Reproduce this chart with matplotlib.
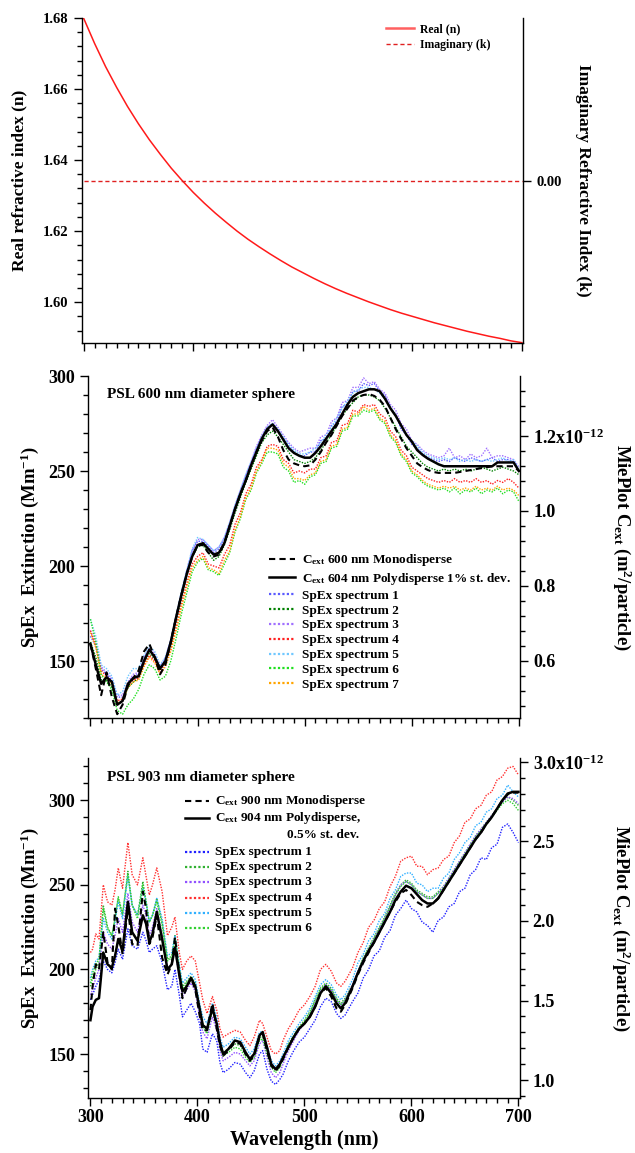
import matplotlib
matplotlib.use("Agg")
import matplotlib.pyplot as plt
from matplotlib.ticker import MultipleLocator, FixedLocator, FuncFormatter, NullFormatter
from matplotlib.lines import Line2D
import numpy as np

plt.rcParams.update({
    "font.family": "Liberation Serif",
    "font.weight": "bold",
    "axes.labelweight": "bold",
    "mathtext.fontset": "custom",
    "mathtext.rm": "Liberation Serif:bold",
    "mathtext.it": "Liberation Serif:bold",
    "mathtext.bf": "Liberation Serif:bold",
    "axes.linewidth": 1.0,
    "axes.unicode_minus": False,
})

# ---------------- data: top panel ----------------
wl_n = list(range(300, 701, 10))
n_real = [1.6799, 1.6728, 1.6663, 1.6605, 1.6551, 1.6502, 1.6457, 1.6416, 1.6377, 1.6342,
          1.6309, 1.6279, 1.6251, 1.6225, 1.6200, 1.6177, 1.6156, 1.6136, 1.6117, 1.6099,
          1.6083, 1.6067, 1.6052, 1.6038, 1.6025, 1.6013, 1.6001, 1.5990, 1.5979, 1.5969,
          1.5960, 1.5951, 1.5942, 1.5934, 1.5926, 1.5918, 1.5911, 1.5904, 1.5898, 1.5891,
          1.5886]
wl_k = [300, 700]
k_imag = [0.0, 0.0]

# ---------------- data: middle panel (PSL 600 nm) ----------------
wl_mid = list(range(300, 701, 5))
mid_mono = [159, 146, 132, 144, 131, 122, 127, 137, 141, 145, 155, 159, 152, 143, 148, 160, 173, 185, 196, 205, 211,
            211, 207, 205, 206, 212, 221, 230, 238, 245, 253, 260, 266, 271, 273, 268, 261, 256, 254, 253, 252.5,
            253, 256, 260, 265, 269, 274, 279, 283, 287, 289, 290, 290.5, 289.5, 287.5, 284, 278, 272, 267, 262, 258,
            254, 252, 250.5, 249.5, 249, 249, 249, 249, 249.5, 250, 250.5, 251, 251.5, 252, 252.5, 252.5, 252.5, 252.5, 252.5, 250]
mid_poly = [159, 148, 138, 141.5, 139, 127, 129, 138, 141, 142, 150, 156, 152, 146, 150, 160, 173, 185, 196, 205, 211,
            212, 209, 206, 207, 212, 221, 230, 238, 245, 253, 260, 267, 272, 274.5, 271, 266.5, 262, 259.5, 258, 257,
            257, 259.5, 263, 267, 271, 275, 280, 285, 289, 291, 292, 293, 293, 292, 288, 283, 279, 274, 269, 265.5,
            261, 258.5, 256.5, 255, 253.5, 252.5, 252.5, 252.5, 252.5, 252.5, 252.5, 252.5, 252.5, 252.5, 252.5, 254.5, 254.5, 254.5, 254.5, 250]
mid_s1 = [163, 158, 146, 143, 140, 131, 131, 138, 142, 143, 151, 156, 153, 146, 151, 161, 173, 186, 197, 208, 213,
          213, 210, 207, 209, 214, 222, 231, 239, 247, 254, 262, 268, 273, 275, 272, 267, 264, 260, 258, 258,
          260, 260, 266, 267, 274, 276, 284, 285, 292, 292, 296, 295, 296, 292, 290, 283, 280, 272, 269, 264,
          262, 259, 257, 256, 255, 256, 255, 257, 256, 255, 257, 256, 255, 256, 257, 255, 256, 256, 255, 250]
mid_s2 = [160, 152, 140, 140, 136, 127, 129, 136, 139, 141, 149, 154, 151, 145, 150, 158, 171, 183, 195, 205, 210,
          211, 207, 203, 205, 211, 219, 228, 236, 244, 251, 258, 265, 269, 271, 268, 264, 260, 256, 255, 254,
          255, 257, 261, 265, 269, 274, 279, 283, 286, 289, 290, 290, 289, 287, 283, 278, 273, 268, 263, 260,
          257, 254, 252, 251, 250, 251, 250, 251, 250, 251, 250, 251, 252, 251, 250, 251, 252, 251, 250, 248]
mid_s3 = [166, 160, 147, 144, 141, 132, 132, 139, 143, 144, 152, 157, 154, 147, 152, 161, 174, 186, 198, 208, 214,
          214, 211, 208, 210, 215, 223, 232, 240, 248, 255, 263, 269, 274, 277, 273, 269, 265, 262, 260, 261,
          262, 262, 268, 269, 276, 278, 286, 287, 294, 294, 299, 296, 297, 293, 291, 285, 282, 275, 272, 266,
          264, 261, 259, 258, 257, 258, 262, 257, 258, 256, 259, 257, 258, 262, 257, 258, 258, 257, 256, 252]
mid_s4 = [166, 158, 145, 142, 139, 129, 130, 137, 140, 141, 148, 153, 150, 144, 149, 156, 168, 180, 191, 201, 205,
          207, 201, 200, 199, 206, 211, 222, 228, 238, 243, 252, 256, 263, 264, 263, 256, 254, 249, 250, 249,
          251, 251, 257, 258, 265, 266, 274, 275, 282, 281, 285, 284, 285, 280, 278, 271, 268, 261, 258, 252,
          250, 248, 246, 245, 244, 245, 244, 246, 244, 245, 244, 246, 244, 245, 243, 245, 244, 246, 244, 241]
mid_s5 = [172, 163, 148, 146, 142, 132, 134, 142, 146, 146, 153, 158, 155, 148, 152, 161, 174, 187, 198, 209, 215,
          214, 211, 208, 210, 215, 223, 232, 240, 248, 255, 262, 268, 273, 275, 272, 268, 264, 261, 259, 259,
          260, 262, 265, 269, 273, 278, 283, 287, 291, 293, 294, 294, 293, 291, 288, 284, 279, 274, 269, 266,
          263, 260, 258, 257, 256, 257, 256, 257, 255, 256, 255, 256, 255, 256, 255, 256, 257, 255, 256, 251]
mid_s6 = [172, 160, 143, 139, 135, 124, 122, 127, 130, 135, 143, 148, 146, 140, 142, 150, 162, 175, 186, 197, 202,
          204, 198, 197, 195, 201, 207, 218, 225, 235, 240, 249, 254, 260, 260, 259, 252, 250, 244, 245, 243,
          247, 248, 254, 255, 262, 263, 271, 272, 279, 279, 282, 281, 282, 277, 275, 268, 265, 258, 255, 249,
          247, 244, 242, 241, 240, 241, 239, 241, 238, 240, 239, 241, 238, 240, 239, 241, 238, 240, 239, 234]
mid_s7 = [165, 157, 143, 141, 138, 128, 129, 136, 139, 140, 147, 152, 149, 143, 147, 155, 166, 178, 189, 199, 203,
          205, 199, 198, 196, 203, 208, 219, 226, 236, 241, 250, 255, 262, 262, 261, 254, 252, 246, 246, 245,
          248, 249, 255, 256, 263, 264, 272, 273, 280, 280, 284, 282, 283, 278, 276, 269, 266, 259, 256, 250,
          248, 245, 243, 242, 241, 242, 241, 242, 240, 241, 240, 242, 240, 241, 240, 242, 240, 241, 240, 237]
mid_spectra = [mid_s1, mid_s2, mid_s3, mid_s4, mid_s5, mid_s6, mid_s7]
mid_colors = ["#5a5aff", "#008000", "#a070ff", "#ff2020", "#70c8ff", "#20e020", "#ffa500"]

# ---------------- data: bottom panel (PSL 903 nm) ----------------
wl_bot = [300, 302, 305, 308, 312, 316, 320, 323, 326, 330,
          335, 339, 344, 349, 352, 355, 358, 362, 367, 372,
          376, 379, 383, 386, 390, 394, 398, 402, 405, 409,
          414, 418, 421, 424, 429, 435, 440, 445, 449, 453,
          458, 461, 465, 469, 473, 477, 480, 485, 490, 495,
          500, 505, 510, 515, 520, 525, 530, 534, 538, 545,
          550, 555, 560, 565, 570, 575, 580, 585, 590, 595,
          600, 605, 610, 615, 620, 625, 630, 635, 640, 645,
          650, 655, 660, 665, 670, 675, 680, 685, 690, 695,
          700]
bot_poly = [170, 178, 182, 183, 210, 203, 201, 208, 218, 211,
            240, 222, 217, 232, 227, 216, 221, 234, 218, 200,
            203, 213, 197, 187, 190, 195, 190, 177, 167, 165,
            177, 168, 157, 150, 153, 158, 157, 151, 147, 150,
            161, 163, 154, 144, 141, 144, 148, 154, 160, 165,
            168, 172, 178, 186, 190, 186, 180, 177, 180, 190,
            198, 205, 211, 216, 222, 228, 234, 241, 246, 249.5,
            248, 244.5, 241, 239, 239, 242, 247, 252, 257, 262,
            267, 272, 277, 281, 286, 290, 295, 300, 304, 305,
            305]
bot_mono = [176, 190, 203, 200, 222, 204, 200, 236, 226, 209,
            236, 215, 214, 246, 236, 215, 219, 232, 207, 197,
            203, 219, 198, 183, 189, 195, 188, 173, 164, 164,
            180, 165, 155, 149, 152, 157, 156, 150, 146, 149,
            160, 162, 152, 143, 140, 143, 147, 154, 160, 165,
            168, 172, 178, 186, 189, 184, 177, 175, 179, 189,
            197, 204, 210, 216, 222, 228, 234, 240, 245, 247,
            244, 240, 238, 237, 239, 242, 247, 252, 257, 262,
            267, 272, 277, 281, 286, 290, 295, 300, 303.5, 304.5,
            304.5]
bot_s1 = [182, 185, 190, 194, 205, 200, 198, 204, 212, 206,
          224, 214, 212, 222, 217, 210, 212, 214, 204, 188,
          190, 200, 185, 172, 176, 180, 175, 168, 153, 151,
          162, 158, 145, 139, 141, 145, 144, 139, 136, 140,
          150, 152, 141, 134, 132, 135, 138, 146, 152, 157,
          160, 165, 170, 178, 183, 181, 174, 171, 173, 181,
          186, 195, 200, 208, 211, 219, 223, 232, 236, 241,
          236, 234, 228, 226, 222, 229, 231, 237, 239, 246,
          248, 256, 259, 266, 265, 272, 274, 284, 286, 281,
          275]
bot_s2 = [190, 195, 200, 204, 238, 225, 220, 230, 242, 232,
          258, 238, 232, 252, 240, 228, 232, 242, 228, 206,
          208, 220, 202, 190, 193, 196, 192, 178, 168, 164,
          178, 169, 157, 151, 153, 156, 155, 150, 147, 150,
          160, 160, 152, 144, 141, 144, 148, 156, 161, 166,
          170, 175, 182, 189, 192, 189, 183, 180, 183, 191,
          199, 207, 213, 219, 225, 231, 238, 245, 250, 253,
          251, 247, 245, 243, 243, 246, 249, 254, 259, 264,
          269, 274, 279, 283, 287, 291, 295, 299, 302, 300,
          297]
bot_s3 = [185, 188, 195, 200, 222, 215, 212, 220, 230, 222,
          245, 228, 222, 238, 232, 220, 225, 236, 220, 200,
          203, 212, 195, 184, 188, 192, 187, 172, 163, 159,
          172, 164, 152, 146, 148, 151, 150, 146, 143, 146,
          156, 158, 148, 139, 136, 139, 144, 152, 158, 164,
          168, 173, 180, 187, 191, 188, 182, 179, 182, 191,
          199, 206, 212, 218, 224, 230, 237, 244, 250, 252,
          250, 246, 244, 242, 242, 245, 249, 254, 259, 264,
          269, 274, 279, 283, 287, 291, 295, 299, 302, 301,
          298]
bot_s4 = [210, 212, 221, 218, 250, 240, 238, 247, 260, 248,
          275, 256, 250, 266, 255, 244, 250, 260, 246, 220,
          225, 231, 210, 200, 205, 208, 205, 192, 182, 174,
          184, 176, 165, 160, 162, 164, 163, 158, 155, 160,
          170, 168, 160, 152, 150, 152, 158, 165, 170, 176,
          179, 184, 190, 200, 203, 199, 192, 190, 193, 201,
          210, 216, 225, 229, 236, 240, 249, 255, 264, 266,
          267, 261, 261, 256, 259, 260, 265, 267, 275, 279,
          287, 289, 295, 297, 303, 305, 312, 314, 319, 320,
          315]
bot_s5 = [195, 200, 205, 207, 230, 222, 218, 228, 240, 230,
          255, 238, 232, 248, 240, 228, 232, 242, 230, 208,
          210, 220, 203, 192, 195, 198, 194, 180, 172, 168,
          180, 172, 160, 154, 156, 160, 159, 154, 150, 153,
          163, 163, 155, 146, 143, 146, 150, 158, 163, 168,
          172, 177, 184, 191, 194, 191, 185, 182, 185, 194,
          204, 209, 217, 221, 229, 233, 242, 247, 255, 257,
          257, 251, 250, 246, 248, 248, 254, 257, 265, 269,
          275, 278, 285, 287, 293, 295, 301, 303, 309, 305,
          302]
bot_s6 = [192, 198, 203, 206, 236, 224, 220, 230, 243, 233,
          256, 238, 230, 250, 240, 228, 232, 240, 226, 205,
          207, 218, 200, 188, 192, 195, 190, 176, 166, 162,
          176, 167, 155, 149, 151, 154, 153, 148, 145, 148,
          158, 159, 150, 142, 139, 142, 147, 155, 160, 165,
          169, 174, 181, 188, 191, 188, 182, 179, 182, 190,
          198, 206, 212, 218, 224, 230, 237, 244, 249, 252,
          250, 246, 244, 242, 242, 245, 248, 253, 258, 263,
          268, 273, 278, 282, 286, 290, 294, 298, 300, 298,
          294]
bot_spectra = [bot_s1, bot_s2, bot_s3, bot_s4, bot_s5, bot_s6]
bot_colors = ["#2020ff", "#30b030", "#9050ff", "#ff3030", "#30b0ff", "#30d030"]

# ---------------- figure ----------------
W, H = 635, 1153
fig = plt.figure(figsize=(W / 100, H / 100), dpi=100)


def rect(l, t, r, b):
    return [l / W, 1 - b / H, (r - l) / W, (b - t) / H]


TL = 13  # tick label size lower panels
LAB = 13.5
dot = (0, (1, 1))
dash = (0, (3, 2))


def style_x(ax, labels):
    ax.set_xlim(298, 701)
    ax.xaxis.set_major_locator(MultipleLocator(100))
    ax.xaxis.set_minor_locator(MultipleLocator(10))
    ax.tick_params(axis="x", which="major", direction="out", length=6, width=1, labelsize=TL, pad=2)
    ax.tick_params(axis="x", which="minor", direction="out", length=3.5, width=1)
    if not labels:
        ax.xaxis.set_major_formatter(NullFormatter())
    for s in ("top", "right"):
        ax.spines[s].set_visible(False)


def key_rows(ax, x0, x1, xt, rows):
    """Draw legend rows (handle sample + label) in axes-fraction coordinates."""
    for y, style, label, xlab in rows:
        if style is not None:
            ax.add_line(Line2D([x0, x1], [y, y], transform=ax.transAxes, clip_on=False, **style))
        ax.text(xt if xlab is None else xlab, y, label, transform=ax.transAxes,
                fontsize=9.5, va="center", ha="left")


# ---------------- top panel ----------------
ax1 = fig.add_axes(rect(81.5, 18, 523, 343))
ax1.plot(wl_n, n_real, color="#ff1a1a", lw=1.1)
ax1.set_ylim(1.5885, 1.68)
ax1.yaxis.set_major_locator(MultipleLocator(0.02))
ax1.yaxis.set_minor_locator(MultipleLocator(0.004))
ax1.yaxis.set_major_formatter(FuncFormatter(lambda v, p: f"{v:.2f}"))
ax1.tick_params(axis="y", which="major", direction="out", length=6, width=1, labelsize=10.5)
ax1.tick_params(axis="y", which="minor", direction="out", length=3.5, width=1)
style_x(ax1, False)
ax1.set_ylabel("Real refractive index (n)", fontsize=12.5, va="center")
ax1.yaxis.set_label_coords(-0.14, 0.5)

ax1k = ax1.twinx()
ax1k.plot(wl_k, k_imag, color="#e02020", lw=1.0, ls=dash)
ax1k.set_ylim(-1.0, 1.0)
ax1k.yaxis.set_major_locator(FixedLocator([0.0]))
ax1k.yaxis.set_major_formatter(FuncFormatter(lambda v, p: "0.00"))
ax1k.tick_params(axis="y", which="major", direction="out", length=6, width=1, labelsize=10.5)
for s in ("top", "left", "bottom"):
    ax1k.spines[s].set_visible(False)
ax1k.text(1.136, 0.5, "Imaginary Refractive Index (k)", transform=ax1k.transAxes,
          fontsize=12.5, rotation=270, va="center", ha="center")
h_top = [Line2D([], [], color="#ff6060", lw=1.8), Line2D([], [], color="#e02020", lw=1.0, ls=dash)]
ax1k.legend(h_top, ["Real (n)", "Imaginary (k)"], loc="upper left", bbox_to_anchor=(0.69, 0.985),
            frameon=False, fontsize=8.5, handlelength=2.4, handletextpad=0.5, labelspacing=0.35,
            borderpad=0, borderaxespad=0)

# ---------------- middle panel ----------------
ax2 = fig.add_axes(rect(88.3, 376, 520, 718))
for ys, c in zip(mid_spectra, mid_colors):
    ax2.plot(wl_mid, ys, color=c, lw=1.0, ls=dot)
ax2.plot(wl_mid, mid_mono, color="k", lw=1.5, ls=dash)
ax2.plot(wl_mid, mid_poly, color="k", lw=1.8)
ax2.set_ylim(120, 300)
ax2.yaxis.set_major_locator(MultipleLocator(50))
ax2.yaxis.set_minor_locator(MultipleLocator(10))
ax2.tick_params(axis="y", which="major", direction="out", length=6, width=1, labelsize=TL)
ax2.tick_params(axis="y", which="minor", direction="out", length=3.5, width=1)
style_x(ax2, False)
ax2.set_ylabel("SpEx  Extinction (Mm$^{-1}$)", fontsize=LAB, va="center")
ax2.yaxis.set_label_coords(-0.135, 0.5)


def mid_f(L):
    return 0.005063 * np.asarray(L) - 0.1595


def mid_finv(R):
    return (np.asarray(R) + 0.1595) / 0.005063


sec2 = ax2.secondary_yaxis("right", functions=(mid_f, mid_finv))
sec2.yaxis.set_major_locator(MultipleLocator(0.2))
sec2.yaxis.set_minor_locator(MultipleLocator(0.04))
sec2.yaxis.set_major_formatter(FuncFormatter(
    lambda v, p: r"1.2x10$^{-12}$" if abs(v - 1.2) < 1e-6 else f"{v:.1f}"))
sec2.tick_params(axis="y", which="major", direction="out", length=6, width=1, labelsize=TL)
sec2.tick_params(axis="y", which="minor", direction="out", length=3.5, width=1)
ax2.text(1.237, 0.5, r"MiePlot C$_{\mathrm{ext}}$ (m$^{2}$/particle)", transform=ax2.transAxes,
         fontsize=LAB, rotation=270, va="center", ha="center")

ax2.text(0.044, 0.947, "PSL 600 nm diameter sphere", transform=ax2.transAxes,
         fontsize=11, va="center", ha="left")
h_mid = [Line2D([], [], color="k", lw=1.5, ls=dash), Line2D([], [], color="k", lw=1.8)]
h_mid += [Line2D([], [], color=c, lw=1.6, ls=dot) for c in mid_colors]
l_mid = [r"C$_{\mathrm{ext}}$ 600 nm Monodisperse",
         r"C$_{\mathrm{ext}}$ 604 nm Polydisperse 1% st. dev."] + \
        [f"SpEx spectrum {i}" for i in range(1, 8)]
ax2.legend(h_mid, l_mid, loc="upper left", bbox_to_anchor=(0.418, 0.485), frameon=False,
           fontsize=9.5, handlelength=2.0, handletextpad=0.5, labelspacing=0.2,
           borderpad=0, borderaxespad=0)

# ---------------- bottom panel ----------------
ax3 = fig.add_axes(rect(88.3, 758, 519.5, 1098))
for ys, c in zip(bot_spectra, bot_colors):
    ax3.plot(wl_bot, ys, color=c, lw=1.0, ls=dot)
ax3.plot(wl_bot, bot_mono, color="k", lw=1.5, ls=dash)
ax3.plot(wl_bot, bot_poly, color="k", lw=1.8)
ax3.set_ylim(124, 325)
ax3.yaxis.set_major_locator(MultipleLocator(50))
ax3.yaxis.set_minor_locator(MultipleLocator(10))
ax3.tick_params(axis="y", which="major", direction="out", length=6, width=1, labelsize=TL)
ax3.tick_params(axis="y", which="minor", direction="out", length=3.5, width=1)
style_x(ax3, True)
ax3.set_ylabel("SpEx  Extinction (Mm$^{-1}$)", fontsize=LAB, va="center")
ax3.yaxis.set_label_coords(-0.135, 0.5)
ax3.set_xlabel("Wavelength (nm)", fontsize=14.5, va="center")
ax3.xaxis.set_label_coords(0.5, -0.125)


def bot_f(L):
    return 1.0 + 0.010633 * (np.asarray(L) - 134.6)


def bot_finv(R):
    return 134.6 + (np.asarray(R) - 1.0) / 0.010633


sec3 = ax3.secondary_yaxis("right", functions=(bot_f, bot_finv))
sec3.yaxis.set_major_locator(MultipleLocator(0.5))
sec3.yaxis.set_minor_locator(MultipleLocator(0.1))
sec3.yaxis.set_major_formatter(FuncFormatter(
    lambda v, p: r"3.0x10$^{-12}$" if abs(v - 3.0) < 1e-6 else f"{v:.1f}"))
sec3.tick_params(axis="y", which="major", direction="out", length=6, width=1, labelsize=TL)
sec3.tick_params(axis="y", which="minor", direction="out", length=3.5, width=1)
ax3.text(1.237, 0.5, r"MiePlot C$_{\mathrm{ext}}$ (m$^{2}$/particle)", transform=ax3.transAxes,
         fontsize=LAB, rotation=270, va="center", ha="center")

ax3.text(0.044, 0.944, "PSL 903 nm diameter sphere", transform=ax3.transAxes,
         fontsize=11, va="center", ha="left")
bot_rows = [(0.8735, dict(color="k", lw=1.5, ls=dash), r"C$_{\mathrm{ext}}$ 900 nm Monodisperse", None),
            (0.8235, dict(color="k", lw=1.8), r"C$_{\mathrm{ext}}$ 904 nm Polydisperse,", None),
            (0.7735, None, "0.5% st. dev.", 0.461)]
ys_b = [0.7235, 0.679, 0.635, 0.588, 0.544, 0.500]
for i, (yy, c) in enumerate(zip(ys_b, bot_colors)):
    bot_rows.append((yy, dict(color=c, lw=1.6, ls=dot), f"SpEx spectrum {i + 1}", None))
key_rows(ax3, 0.224, 0.280, 0.294, bot_rows)

fig.savefig("out.png", dpi=100)
